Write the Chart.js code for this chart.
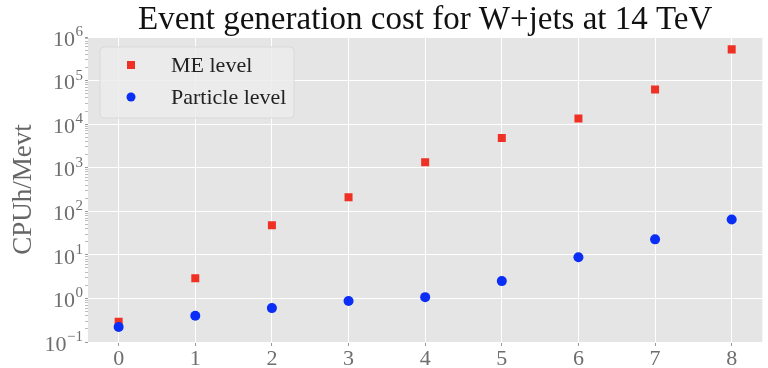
<!DOCTYPE html>
<html>
<head>
<meta charset="utf-8">
<script src="https://cdn.jsdelivr.net/npm/chart.js@4/dist/chart.umd.min.js"></script>
<style>
  html, body { margin: 0; padding: 0; background: #ffffff; }
  #wrap { width: 768px; height: 368px; }
</style>
</head>
<body>
<div id="wrap"><canvas id="c" width="768" height="368"></canvas></div>
<script>
// Number of jets in the final state
const jets = [0, 1, 2, 3, 4, 5, 6, 7, 8];
// CPU hours per million events
const meLevel = [0.29, 2.9, 48, 210, 1340, 4800, 13500, 62000, 520000];
const particleLevel = [0.22, 0.40, 0.60, 0.87, 1.07, 2.5, 8.8, 22.7, 65];
// Decade ticks of the log axis and their exponents
const yMajorTicks = [1e-1, 1e0, 1e1, 1e2, 1e3, 1e4, 1e5, 1e6];
const yExponents = ['\u22121', '0', '1', '2', '3', '4', '5', '6'];
const seriesNames = ['ME level', 'Particle level'];
const titleText = 'Event generation cost for W+jets at 14 TeV';
const yTitle = 'CPUh/Mevt';

const SERIF = '"Liberation Serif", "DejaVu Serif", serif';
const RED = '#ee3124';
const BLUE = '#0a2ef5';

function isDecade(v) {
  const l = Math.log10(v);
  return Math.abs(l - Math.round(l)) < 1e-9;
}

// Grey panel behind the data
const panelBg = {
  id: 'panelBg',
  beforeDraw(chart) {
    const { ctx, chartArea: a } = chart;
    ctx.save();
    ctx.fillStyle = '#ffffff';
    ctx.fillRect(0, 0, chart.width, chart.height);
    ctx.fillStyle = '#e5e5e5';
    ctx.fillRect(a.left, a.top, a.right - a.left, a.bottom - a.top);
    ctx.restore();
  }
};

// "10" with a raised exponent next to every decade tick
const powerLabels = {
  id: 'powerLabels',
  afterDraw(chart) {
    const { ctx } = chart;
    const y = chart.scales.y;
    const right = y.right - 5;
    ctx.save();
    ctx.fillStyle = '#6e6e6e';
    ctx.textBaseline = 'middle';
    ctx.textAlign = 'right';
    yMajorTicks.forEach((v, i) => {
      const py = y.getPixelForValue(v);
      ctx.font = '15px ' + SERIF;
      const ew = ctx.measureText(yExponents[i]).width;
      ctx.fillText(yExponents[i], right, py - 5);
      ctx.font = '22px ' + SERIF;
      ctx.fillText('10', right - ew - 0.5, py + 3);
    });
    ctx.restore();
  }
};

// Legend box in the upper-left corner of the panel
const innerLegend = {
  id: 'innerLegend',
  afterDraw(chart) {
    const { ctx, chartArea: a } = chart;
    const x0 = a.left + 12, y0 = a.top + 10, w = 194, h = 71;
    ctx.save();
    ctx.beginPath();
    ctx.roundRect(x0, y0, w, h, 4);
    ctx.fillStyle = 'rgba(236,236,236,0.85)';
    ctx.fill();
    ctx.strokeStyle = '#d9d9d9';
    ctx.lineWidth = 1;
    ctx.stroke();
    chart.data.datasets.forEach((ds, i) => {
      const cy = y0 + 18 + i * 32;
      const cx = x0 + 31;
      ctx.fillStyle = ds.backgroundColor;
      if (ds.pointStyle === 'rect') {
        ctx.fillRect(cx - 4, cy - 4, 8, 8);
      } else {
        ctx.beginPath();
        ctx.arc(cx, cy, 4.5, 0, Math.PI * 2);
        ctx.fill();
      }
      ctx.fillStyle = '#222222';
      ctx.font = '22px ' + SERIF;
      ctx.textAlign = 'left';
      ctx.textBaseline = 'middle';
      ctx.fillText(ds.label, x0 + 71, cy + 1);
    });
    ctx.restore();
  }
};

new Chart(document.getElementById('c'), {
  type: 'scatter',
  data: {
    datasets: [
      {
        label: seriesNames[0],
        data: jets.map((x, i) => ({ x, y: meLevel[i] })),
        pointStyle: 'rect',
        pointRadius: 5.66,
        pointBorderWidth: 0,
        backgroundColor: RED,
        borderColor: RED,
        order: 2
      },
      {
        label: seriesNames[1],
        data: jets.map((x, i) => ({ x, y: particleLevel[i] })),
        pointStyle: 'circle',
        pointRadius: 5,
        pointBorderWidth: 0,
        backgroundColor: BLUE,
        borderColor: BLUE,
        order: 1
      }
    ]
  },
  options: {
    responsive: false,
    animation: false,
    devicePixelRatio: 1,
    layout: { padding: { left: 0, right: 2, top: 0, bottom: 0 } },
    plugins: {
      legend: { display: false },
      tooltip: { enabled: false },
      title: {
        display: true,
        fullSize: false,
        text: titleText,
        color: '#111111',
        font: { family: SERIF, size: 33, weight: 'normal', lineHeight: 1 },
        padding: { top: 4, bottom: 0 }
      }
    },
    scales: {
      x: {
        type: 'linear',
        min: -0.4,
        max: 8.4,
        afterBuildTicks(scale) { scale.ticks = jets.map(v => ({ value: v })); },
        afterFit(scale) { scale.height = 26; },
        border: { display: false },
        grid: { color: '#ffffff', lineWidth: 1, tickColor: '#999999', tickLength: 4 },
        ticks: {
          color: '#6e6e6e',
          padding: 0,
          font: { family: SERIF, size: 22 },
          maxRotation: 0,
          autoSkip: false
        }
      },
      y: {
        type: 'logarithmic',
        min: 0.1,
        max: 1e6,
        afterBuildTicks(scale) {
          const t = [];
          for (let e = -1; e < 6; e++) {
            for (let k = 1; k < 10; k++) t.push({ value: k * Math.pow(10, e) });
          }
          t.push({ value: 1e6 });
          scale.ticks = t;
        },
        afterFit(scale) { scale.width = 88; },
        border: { display: false },
        grid: {
          color: c => (c.tick && isDecade(c.tick.value) ? '#ffffff' : 'rgba(0,0,0,0)'),
          tickColor: c => (c.tick && isDecade(c.tick.value) ? '#999999' : '#bbbbbb'),
          lineWidth: 1,
          tickLength: 3
        },
        ticks: { display: false, autoSkip: false },
        title: {
          display: true,
          text: yTitle,
          color: '#666666',
          font: { family: SERIF, size: 27, lineHeight: 1 },
          padding: { top: 10, bottom: 0 }
        }
      }
    }
  },
  plugins: [panelBg, powerLabels, innerLegend]
});
</script>
</body>
</html>
